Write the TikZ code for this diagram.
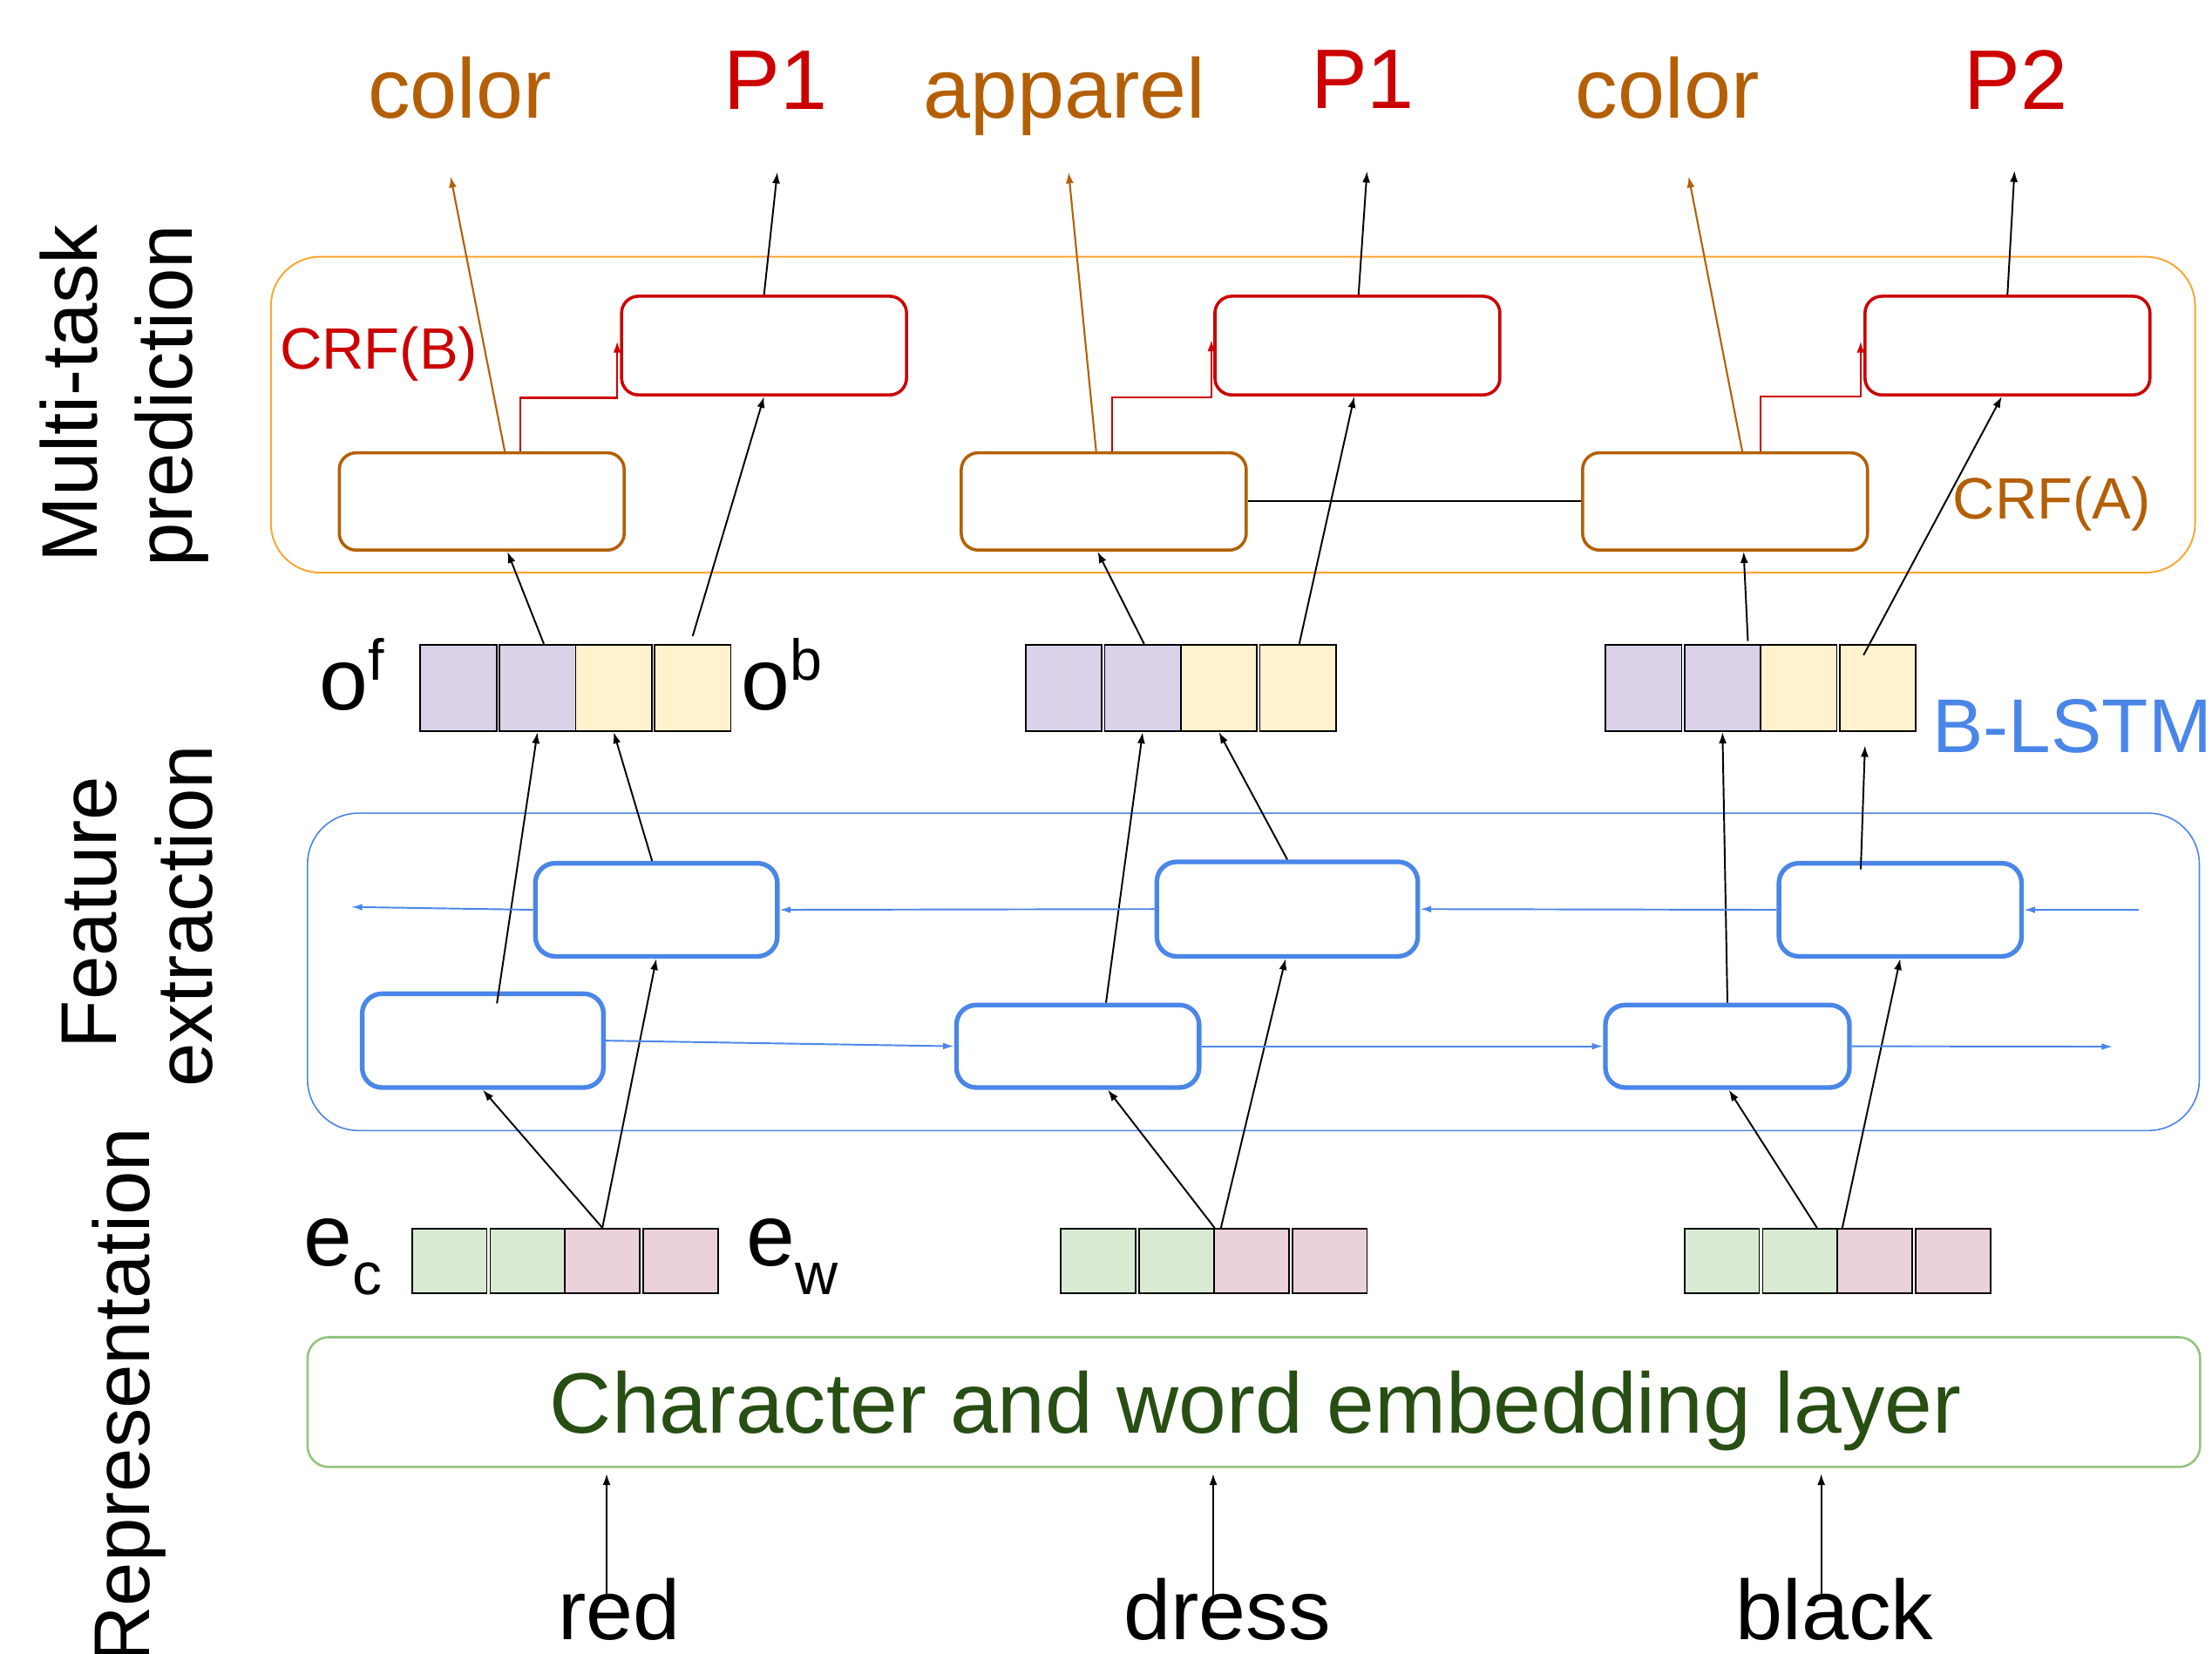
\documentclass[tikz,border=0pt]{standalone}
\usepackage{fontspec}
\setmainfont{Liberation Sans}
\usetikzlibrary{arrows.meta}
\definecolor{cBrown}{HTML}{B45F06}
\definecolor{cRed}{HTML}{CC0000}
\definecolor{cBlue}{HTML}{4A86E8}
\definecolor{cDGreen}{HTML}{274E13}
\definecolor{cLGreen}{HTML}{93C47D}
\definecolor{cOrange}{HTML}{FBA532}
\definecolor{cPurple}{HTML}{D9D2E9}
\definecolor{cYellow}{HTML}{FFF2CC}
\definecolor{cGreenSq}{HTML}{D9EAD3}
\definecolor{cPink}{HTML}{EAD1DC}
\newcommand\myfs[1]{\fontsize{#1pt}{#1pt}\selectfont}
\begin{document}
\begin{tikzpicture}[x=0.5pt,y=-0.5pt,
  every node/.style={inner sep=0pt},
  arr/.style={-{Latex[length=4pt,width=2.8pt]}, line width=0.6pt, draw=black},
  oarr/.style={-{Latex[length=4pt,width=2.8pt]}, line width=0.65pt, draw=cBrown},
  rarr/.style={-{Latex[length=4pt,width=2.8pt]}, line width=0.65pt, draw=cRed},
  barr/.style={-{Latex[length=3.9pt,width=2.4pt]}, line width=0.6pt, draw=cBlue},
  crfabox/.style={draw=cBrown, line width=1.1pt, rounded corners=6pt, minimum width=101pt, minimum height=34.5pt},
  crfbbox/.style={draw=cRed, line width=1.1pt, rounded corners=6pt, minimum width=101pt, minimum height=35pt},
  lstm/.style={draw=cBlue, line width=1.65pt, rounded corners=7pt},
  osq/.style={draw=black, line width=0.55pt, minimum width=27pt, minimum height=30.75pt},
  esq/.style={draw=black, line width=0.55pt, minimum width=26.5pt, minimum height=23pt},
  ]
\fill[white] (0,0) rectangle (1568,1172);
\useasboundingbox (0,0) rectangle (1568,1172);

% outer layer boxes
\node[draw=cOrange, line width=0.6pt, rounded corners=17.5pt, minimum width=682pt, minimum height=112pt] (mtp) at (874,294) {};
\node[draw=cBlue, line width=0.5pt, rounded corners=18pt, minimum width=670.5pt, minimum height=112.5pt] (fex) at (888.5,689) {};
\node[draw=cLGreen, line width=0.8pt, rounded corners=7.5pt, minimum width=670.8pt, minimum height=46pt] (emb) at (888.8,994) {};
\node[anchor=base, text=cDGreen, font=\myfs{30.4}] (embtxt) at (890,1016) {Character and word embedding layer};

% CRF boxes
\node[crfabox] (oa1) at (341.5,355.5) {};
\node[crfabox] (oa2) at (782.4,355.5) {};
\node[crfabox] (oa3) at (1222.8,355.5) {};
\node[crfbbox] (rb1) at (541.6,245) {};
\node[crfbbox] (rb2) at (962.2,245) {};
\node[crfbbox] (rb3) at (1423,245) {};

% LSTM boxes
\node[lstm, minimum width=85.5pt, minimum height=33.25pt] (f1) at (342.25,737.75) {};
\node[lstm, minimum width=86pt, minimum height=29.25pt] (f2) at (764,741.75) {};
\node[lstm, minimum width=86.5pt, minimum height=29.25pt] (f3) at (1224.5,741.75) {};
\node[lstm, minimum width=85.75pt, minimum height=33pt] (b1) at (465.25,645) {};
\node[lstm, minimum width=92.5pt, minimum height=33.5pt] (b2) at (912.5,644.5) {};
\node[lstm, minimum width=86pt, minimum height=33pt] (b3) at (1347,645) {};

% vectors
\foreach \g/\ox/\ex in {1/298/292,2/727/752,3/1138/1194}{
  \node[osq,fill=cPurple] (o\g-a) at (\ox+27,487.75) {};
  \node[osq,fill=cPurple] (o\g-b) at (\ox+83,487.75) {};
  \node[osq,fill=cYellow] (o\g-c) at (\ox+137,487.75) {};
  \node[osq,fill=cYellow] (o\g-d) at (\ox+193,487.75) {};
  \node[esq,fill=cGreenSq] (e\g-a) at (\ex+26.5,894) {};
  \node[esq,fill=cGreenSq] (e\g-b) at (\ex+82,894) {};
  \node[esq,fill=cPink] (e\g-c) at (\ex+135,894) {};
  \node[esq,fill=cPink] (e\g-d) at (\ex+190.5,894) {};
}

% labels
\node[anchor=base, text=cBrown, font=\myfs{30}] (lc1) at (326,83.5) {color};
\node[anchor=base, text=cRed, font=\myfs{30}] (lp1) at (550,77.5) {P1};
\node[anchor=base, text=cBrown, font=\myfs{30}] (lap) at (754.6,83.5) {apparel};
\node[anchor=base, text=cRed, font=\myfs{30}] (lp2) at (966,77) {P1};
\node[anchor=base, text=cBrown, font=\myfs{30}] (lc2) at (1182,83.5) {color};
\node[anchor=base, text=cRed, font=\myfs{30}] (lp3) at (1429,77.5) {P2};

\node[anchor=base west, text=cRed, font=\myfs{20.7}] (lcrfb) at (198,261.5) {CRF(B)};
\node[anchor=base west, text=cBrown, font=\myfs{20.7}] (lcrfa) at (1384,367.7) {CRF(A)};
\node[anchor=base west, text=cBlue, font=\myfs{27}] (lblstm) at (1369.5,533.4) {B-LSTM};

\node[anchor=base west, font=\myfs{31}] (lof) at (226,503.5) {o\raisebox{10.75pt}{\myfs{20.5}f}};
\node[anchor=base west, font=\myfs{31}] (lob) at (525,503.5) {o\raisebox{10.75pt}{\myfs{20.5}b}};
\node[anchor=base west, font=\myfs{31}] (lec) at (215,897.5) {e\raisebox{-10.25pt}{\myfs{21}c}};
\node[anchor=base west, font=\myfs{31}] (lew) at (529,897.5) {e\raisebox{-10.25pt}{\myfs{21}w}};

\node[anchor=base, font=\myfs{30}] (wred) at (439,1162.5) {red};
\node[anchor=base, font=\myfs{30}] (wdress) at (870,1162.5) {dress};
\node[anchor=base, font=\myfs{30}] (wblack) at (1300.5,1162.5) {black};

\node[rotate=90, anchor=base, font=\myfs{28}] (lmt) at (69,279) {Multi-task};
\node[rotate=90, anchor=base, font=\myfs{28}] (lpred) at (136,280.6) {prediction};
\node[rotate=90, anchor=base, font=\myfs{28}] (lfeat) at (82.4,646.8) {Feature};
\node[rotate=90, anchor=base, font=\myfs{28}] (lext) at (150.3,649.4) {extraction};
\node[rotate=90, anchor=base east, font=\myfs{28}] (lrep) at (106,799) {Representation};

% free ends
\coordinate (t1) at (319.4,125);
\coordinate (t2) at (551,122);
\coordinate (t3) at (757.5,122);
\coordinate (t4) at (969,121.4);
\coordinate (t5) at (1197,125);
\coordinate (t6) at (1428,121);
\coordinate (bstart) at (1516,645);
\coordinate (bend) at (249,643);
\coordinate (fend) at (1497.6,742);
\coordinate (w1) at (430,1132);
\coordinate (w2) at (860,1132);
\coordinate (w3) at (1291,1132);

% word inputs
\draw[arr, shorten >=2pt] (w1) -- (w1 |- emb.south);
\draw[arr, shorten >=2pt] (w2) -- (w2 |- emb.south);
\draw[arr, shorten >=2pt] (w3) -- (w3 |- emb.south);

% group 1
\draw[arr] (e1-c.north) -- (f1.south);
\draw[arr] (e1-c.north) -- (b1.south);
\draw[arr] ([xshift=5pt,yshift=-4.25pt]f1.north) -- (o1-b.south);
\draw[arr] ([xshift=-1.5pt]b1.north) -- (o1-c.south);
\draw[arr] ([xshift=2.25pt]o1-b.north) -- ([xshift=9.1pt]oa1.south);
\draw[arr] ([yshift=2.75pt]o1-d.north) -- (rb1.south);
\draw[oarr] ([xshift=8.15pt]oa1.north) -- (t1);
\draw[rarr] ([xshift=13.75pt]oa1.north) |- ([xshift=-1pt,yshift=-18.5pt]rb1.west) -- ([xshift=-1pt,yshift=1.5pt]rb1.west);
\draw[arr] (rb1.north) -- (t2);

% group 2
\draw[arr] ([xshift=0.5pt]e2-c.north west) -- ([xshift=10.65pt]f2.south);
\draw[arr] ([xshift=2.75pt]e2-c.north west) -- ([xshift=-0.6pt]b2.south);
\draw[arr] ([xshift=10pt]f2.north) -- (o2-b.south);
\draw[arr] (b2.north) -- (o2-c.south);
\draw[arr] ([xshift=0.5pt]o2-b.north) -- ([xshift=-2.2pt]oa2.south);
\draw[arr] ([xshift=0.5pt]o2-d.north) -- ([xshift=-1.1pt]rb2.south);
\draw[oarr] ([xshift=-2.7pt]oa2.north) -- (t3);
\draw[rarr] ([xshift=3pt]oa2.north) |- ([xshift=-0.7pt,yshift=-18.25pt]rb2.west) -- ([xshift=-0.7pt,yshift=2pt]rb2.west);
\draw[arr] ([xshift=0.4pt]rb2.north) -- (t4);
\draw[line width=0.6pt] (oa2.east) -- (oa3.west);

% group 3
\draw[arr] ([xshift=6pt]e3-b.north) -- ([xshift=0.5pt]f3.south);
\draw[arr] ([xshift=2pt]e3-c.north west) -- (b3.south);
\draw[arr] (f3.north) -- (o3-b.south);
\draw[arr] ([xshift=-14pt,yshift=-3pt]b3.north) -- ([xshift=-4.5pt,yshift=-4.75pt]o3-d.south);
\draw[arr] ([xshift=9pt,yshift=1pt]o3-b.north) -- ([xshift=6.6pt]oa3.south);
\draw[arr] ([xshift=-5pt,yshift=-4pt]o3-d.north) -- ([xshift=-2pt]rb3.south);
\draw[oarr] ([xshift=6.1pt]oa3.north) -- (t5);
\draw[rarr] ([xshift=12.6pt]oa3.north) |- ([xshift=-1pt,yshift=-18pt]rb3.west) -- ([xshift=-1pt,yshift=1.5pt]rb3.west);
\draw[arr] (rb3.north) -- (t6);

% recurrent connections
\draw[barr] (bstart) -- (b3.east);
\draw[barr] (b3.west) -- (b2.east);
\draw[barr] (b2.west) -- (b1.east);
\draw[barr] (b1.west) -- (bend);
\draw[barr] (f1.east) -- (f2.west);
\draw[barr] (f2.east) -- (f3.west);
\draw[barr] (f3.east) -- (fend);
\end{tikzpicture}
\end{document}
